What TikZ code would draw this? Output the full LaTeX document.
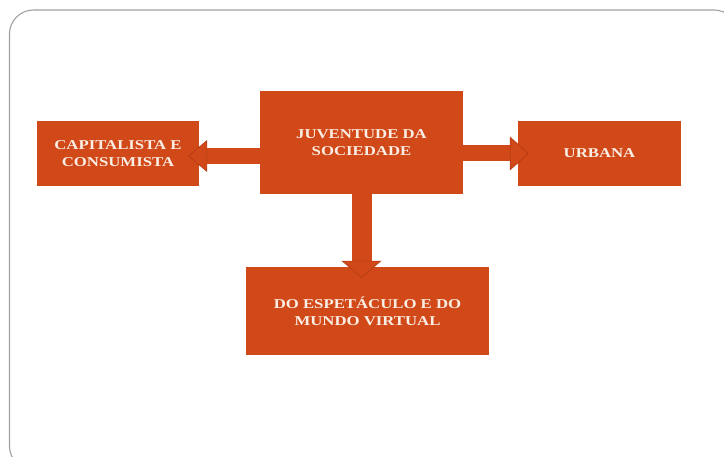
\documentclass[tikz,border=0pt]{standalone}
\usepackage{fontspec}
\newfontfamily\blokfont[FakeStretch=1.24]{Liberation Serif}
\usepackage{xcolor}
\definecolor{juvlaranja}{RGB}{209,73,24}
\definecolor{juvborda}{RGB}{180,60,20}
\definecolor{juvtexto}{RGB}{250,238,228}
\definecolor{juvmoldura}{RGB}{160,160,160}
\usetikzlibrary{arrows.meta}
\tikzset{
  blok/.style={fill=juvlaranja,inner sep=0pt,align=center,text=juvtexto,
    font=\blokfont\bfseries\fontsize{13.5}{17}\selectfont},
  seta/.style={juvlaranja,shorten >=-11pt},
}
% ponta larga com contorno escuro
\newcommand{\pontaseta}[2]{-{Triangle[width=#1,length=#2,fill=juvlaranja,color=juvborda,line width=0.7pt]}}

\begin{document}
\begin{tikzpicture}[x=1pt,y=-1pt]
\useasboundingbox (0,0) rectangle (724,457);
% ---- moldura
\draw[juvmoldura,line width=1.1pt,rounded corners=24pt] (9.5,10) rectangle (738,470);
% ---- caixas
\node[blok,minimum width=203pt,minimum height=103pt] (juv) at (361.5,142.5) {JUVENTUDE DA\\SOCIEDADE};
\node[blok,minimum width=162pt,minimum height=65pt] (capit) at (118,153.5) {CAPITALISTA E\\CONSUMISTA};
\node[blok,minimum width=163pt,minimum height=65pt] (urb) at (599.5,153.5) {URBANA};
\node[blok,minimum width=243pt,minimum height=88pt] (mundo) at (367.5,311) {DO ESPET\'ACULO E DO\\MUNDO VIRTUAL};
% ---- setas largas
\draw[seta,line width=16pt,\pontaseta{32pt}{19pt}] ([yshift=-2.5pt]juv.west |- capit.east) -- ([yshift=-2.5pt]capit.east);
\draw[seta,line width=16pt,\pontaseta{34pt}{19pt}] (juv.east |- urb.west) -- (urb.west);
\draw[seta,line width=20pt,\pontaseta{40pt}{17pt}] (juv.south) -- (juv.south |- mundo.north);
\end{tikzpicture}
\end{document}
